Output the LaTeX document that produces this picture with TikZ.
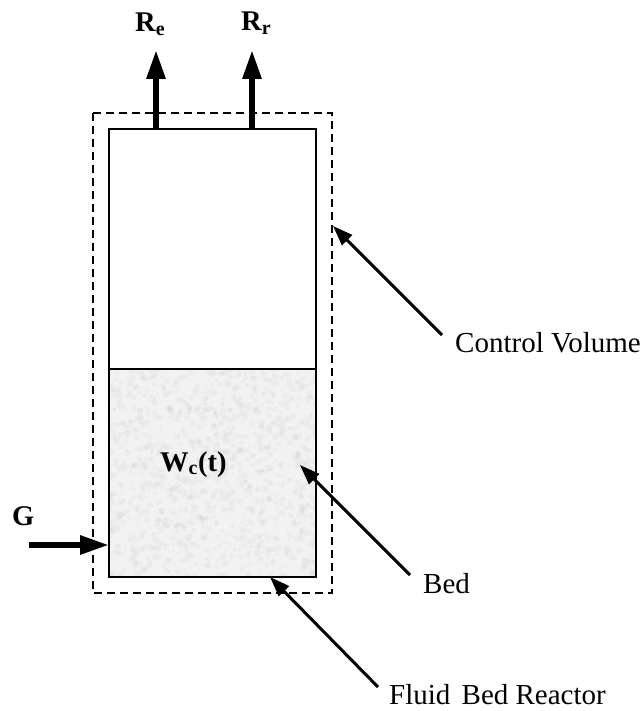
\documentclass[tikz,border=0pt]{standalone}
\usepackage{fontspec}
\setmainfont{Liberation Serif}
\usepackage{xcolor}
\usetikzlibrary{arrows.meta}
\definecolor{bedgray}{gray}{0.95}
\definecolor{speckgray}{gray}{0.74}

\begin{document}
\begin{tikzpicture}[x=1pt,y=-1pt,
    wall/.style={line width=2pt},
    ctrlvol/.style={line width=1.8pt, dash pattern=on 8pt off 5pt},
    flow/.style={line width=6pt, -{Triangle[length=29pt,width=18pt]}},
    pointer/.style={line width=3pt, -{Triangle[length=20pt,width=14pt]}},
    plainlabel/.style={anchor=base west, inner sep=0pt, font=\fontsize{29}{31}\selectfont},
    boldlabel/.style={anchor=base west, inner sep=0pt, font=\fontsize{28.5}{30}\selectfont\bfseries}]
      \useasboundingbox (0,0) rectangle (643,711);%

      \def\xl{109} \def\xr{316} \def\yt{129} \def\yb{577} \def\ybed{369}%

      \coordinate (T_l) at (\xl,\yt); \coordinate (B_r) at (\xr,\yb);%
      \coordinate (S_l) at (\xl,\ybed); \coordinate (S_r) at (\xr,\ybed);%
      \coordinate (R_e) at (156,\yt); \coordinate (R_r) at (252,\yt);%
      \coordinate (R_e') at (156,50); \coordinate (R_r') at (252,50);%
      \coordinate (G_0) at (29,545); \coordinate (G_t) at (\xl,545);%

      % bed with its speckle
      \fill[bedgray] (S_l) rectangle (B_r);%
      \begin{scope}
        \clip (S_l) rectangle (B_r);%
        \pgfmathsetseed{11}%
        \foreach \i in {1,...,1500} {%
          \pgfmathsetmacro{\px}{\xl+207*rnd}%
          \pgfmathsetmacro{\py}{\ybed+208*rnd}%
          \pgfmathsetmacro{\pr}{1+2.5*rnd}%
          \fill[speckgray, opacity=0.1] (\px,\py) circle (\pr);%
        }%
      \end{scope}

      \draw[ctrlvol] (93,113) rectangle (332,593);%
      \draw[wall] (T_l) rectangle (B_r);%
      \draw[wall] (S_l) -- (S_r);%

      \draw[flow] (R_e) -- (R_e');%
      \draw[flow] (R_r) -- (R_r');%
      \draw[flow] (G_0) -- (G_t);%

      \node[boldlabel] (Re) at (135,32) {R\textsubscript{e}};%
      \node[boldlabel] (Rr) at (241,31) {R\textsubscript{r}};%
      \node[boldlabel] (G) at (12,525) {G};%
      \node[boldlabel] (Wc) at (160,471) {W\textsubscript{c}(t)};%
      \node[plainlabel] (cv) at (455,352) {Control Volume};%
      \node[plainlabel] (bed) at (423,593) {Bed};%
      \node[plainlabel] (fbr) at (389,704) {Fluid\hspace{4pt} Bed Reactor};%

      \foreach \nm/\ax/\ay/\bx/\by in {cv/442/335/333/226, bed/410/575/300/465, fbr/378/687/270/577} {%
        \coordinate (\nm_0) at (\ax,\ay);%
        \coordinate (\nm_t) at (\bx,\by);%
        \draw[pointer] (\nm_0) -- (\nm_t);%
      }%
\end{tikzpicture}
\end{document}
